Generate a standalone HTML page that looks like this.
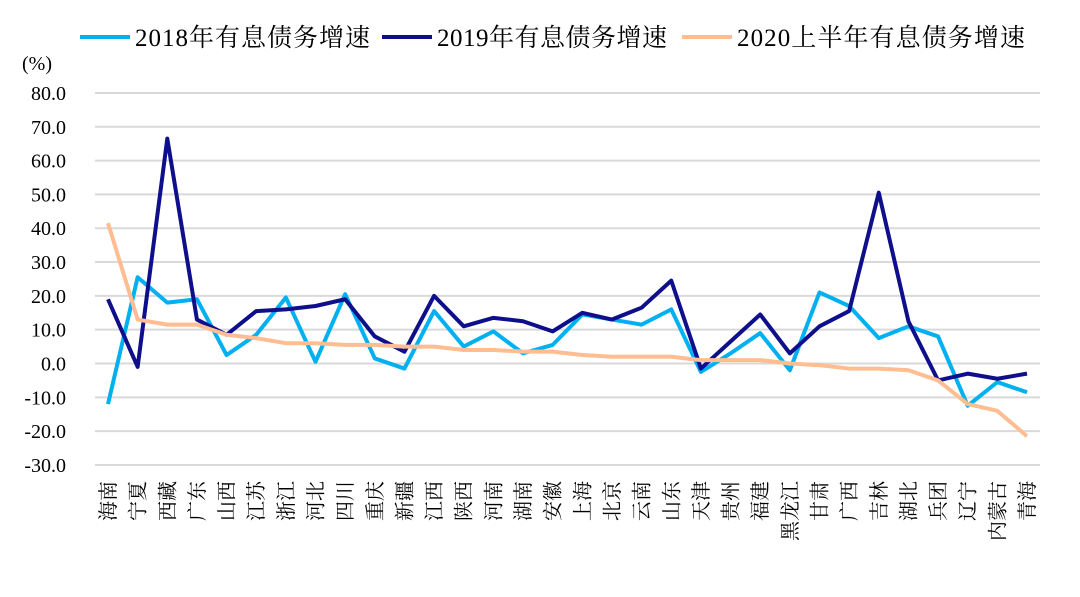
<!DOCTYPE html>
<html><head><meta charset="utf-8"><style>
body{margin:0;background:#fff;}
svg text{font-family:"Liberation Serif","Noto Serif CJK SC","Noto Sans CJK SC",serif;fill:#000;}
</style></head><body>
<svg id="chart" width="1080" height="592" xmlns="http://www.w3.org/2000/svg">
<g id="legend">
<g><line x1="80" y1="37" x2="130" y2="37" stroke="#00B0F0" stroke-width="4"/><text x="135" y="46" font-size="25" textLength="235">2018年有息债务增速</text></g>
<g><line x1="382" y1="37" x2="432" y2="37" stroke="#0F0F8C" stroke-width="4"/><text x="437" y="46" font-size="25" textLength="230">2019年有息债务增速</text></g>
<g><line x1="682" y1="37" x2="732" y2="37" stroke="#FFBD91" stroke-width="4"/><text x="737" y="46" font-size="25" textLength="288">2020上半年有息债务增速</text></g>
</g>
<text x="22" y="70" font-size="20">(%)</text>
<g id="grid"></g>
<g id="yticks"></g>
<g id="series"></g>
<g id="xticks"></g>
</svg>
<script>
const categories=["海南","宁夏","西藏","广东","山西","江苏","浙江","河北","四川","重庆","新疆","江西","陕西","河南","湖南","安徽","上海","北京","云南","山东","天津","贵州","福建","黑龙江","甘肃","广西","吉林","湖北","兵团","辽宁","内蒙古","青海"];
const s2018=[-12,25.5,18,19,2.5,8.5,19.5,0.5,20.5,1.5,-1.5,15.5,5,9.5,3,5.5,14.5,13,11.5,16,-2.5,3,9,-2,21,17,7.5,11,8,-12.5,-5.5,-8.5];
const s2019=[19,-1,66.5,13,8.5,15.5,16,17,19,8,3.5,20,11,13.5,12.5,9.5,15,13,16.5,24.5,-1.5,6.5,14.5,3,11,15.5,50.5,12.5,-5,-3,-4.5,-3];
const s2020=[41.5,13,11.5,11.5,8.5,7.5,6,6,5.5,5.5,5,5,4,4,3.5,3.5,2.5,2,2,2,1,1,1,0,-0.5,-1.5,-1.5,-2,-5,-12,-14,-21.5];
const yTicks=[80,70,60,50,40,30,20,10,0,-10,-20,-30];
const NS="http://www.w3.org/2000/svg";
const y=v=>363.5-(v)*3.382;
const x=i=>108+i*(1027-108)/(categories.length-1);
function mk(t,a,p){const e=document.createElementNS(NS,t);for(const k in a)e.setAttribute(k,a[k]);p.appendChild(e);return e;}
const grid=document.getElementById('grid'),yt=document.getElementById('yticks');
yTicks.forEach(v=>{
 const l=mk('line',{x1:95,x2:1040,y1:y(v),y2:y(v),stroke:'#d9d9d9','stroke-width':2},grid);
 
 
 const t=mk('text',{x:66,y:y(v)+7,'text-anchor':'end','font-size':20},yt);
 t.textContent=v.toFixed(1);
 
 
});
const ser=document.getElementById('series');
[[s2018,'#00B0F0','line-2018'],[s2019,'#0F0F8C','line-2019'],[s2020,'#FFBD91','line-2020h1']].forEach(([d,c,n])=>{
 const p=mk('polyline',{points:d.map((v,i)=>x(i)+','+y(v)).join(' '),fill:'none',stroke:c,'stroke-width':4,'stroke-linejoin':'round'},ser);
 
 
});
const xt=document.getElementById('xticks');
categories.forEach((c,i)=>{
 const t=mk('text',{transform:`translate(${x(i)+7},481) rotate(-90)`,'text-anchor':'end','font-size':20},xt);
 t.textContent=c;
 
 
});
</script>
</body></html>
